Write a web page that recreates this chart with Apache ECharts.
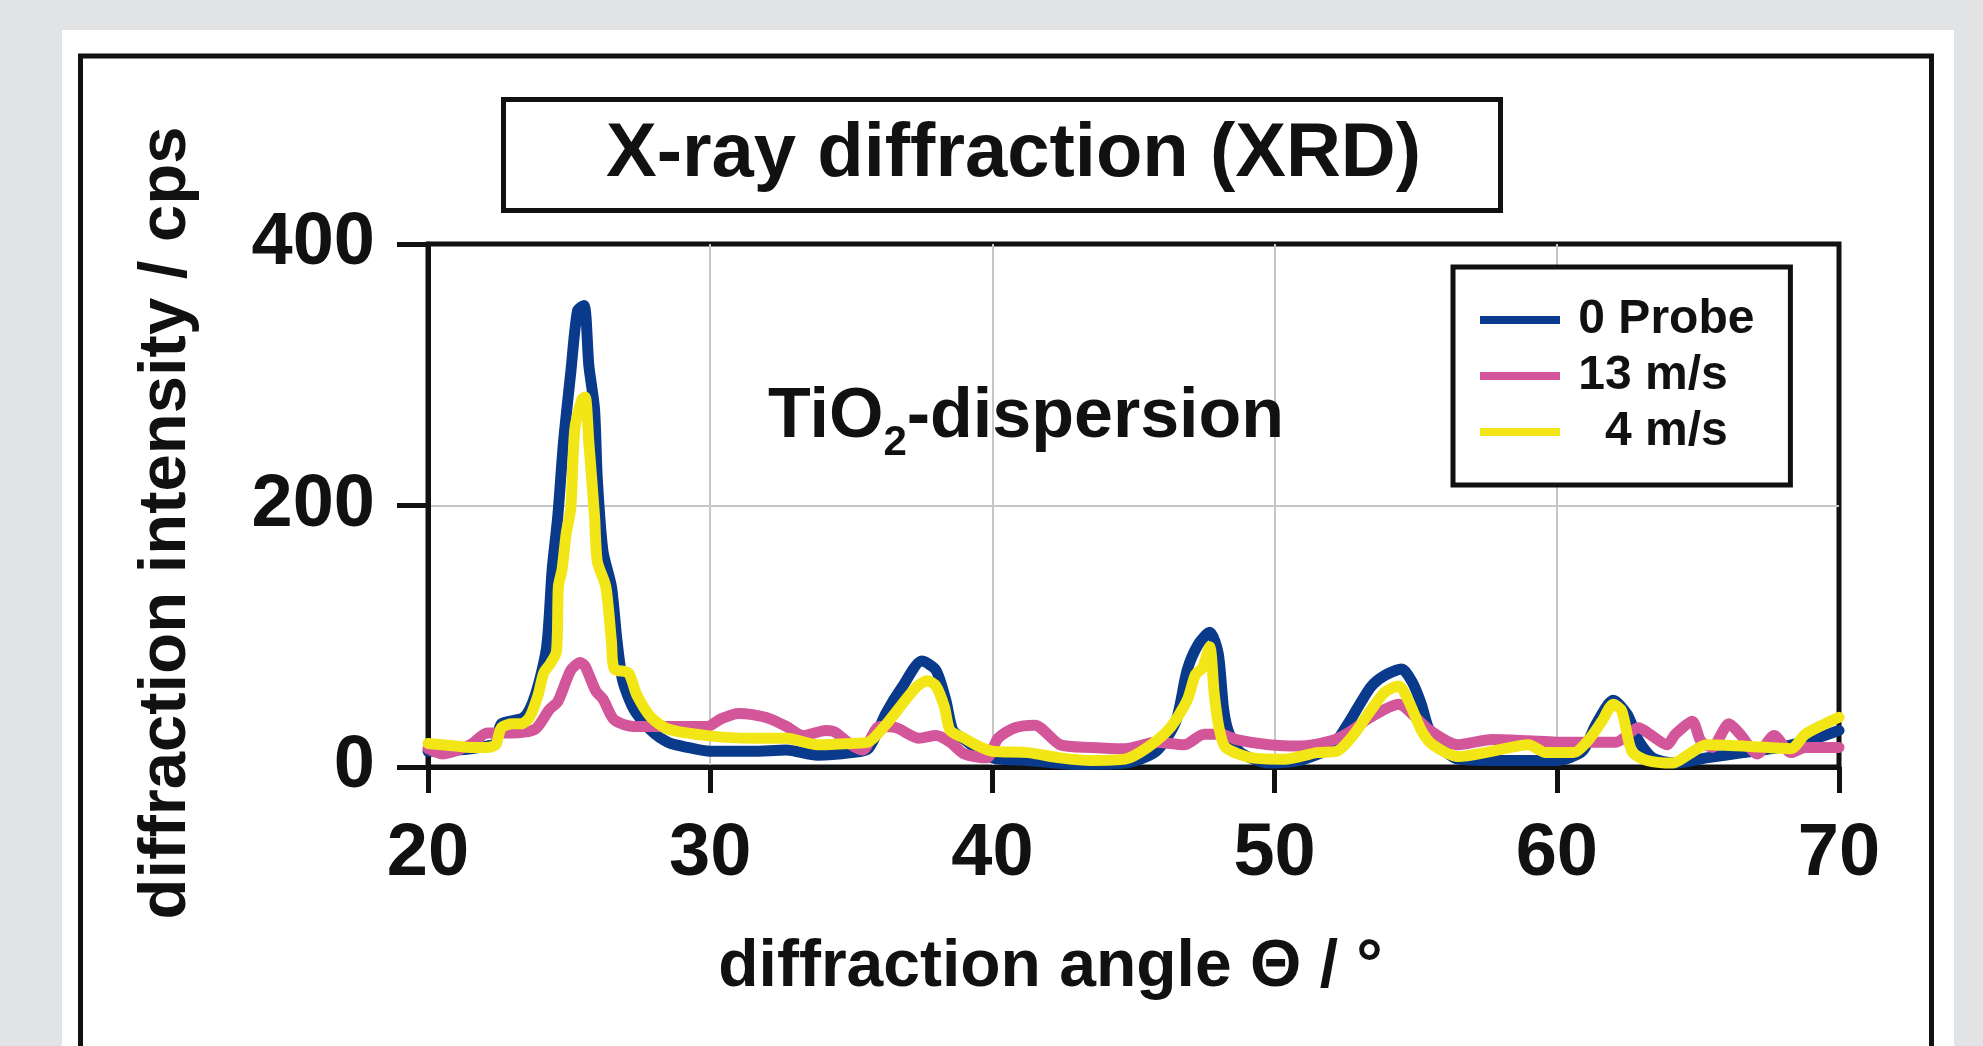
<!DOCTYPE html>
<html>
<head>
<meta charset="utf-8">
<script src="https://cdn.jsdelivr.net/npm/echarts@6/dist/echarts.min.js"></script>
<style>
html,body{margin:0;padding:0;background:#e2e3e5;}
#chart{width:1983px;height:1046px;}
</style>
</head>
<body>
<div id="chart"></div>
<script>
// ---- data (angle 2θ in °, intensity in cps) ----
const seriesNames = ['0 Probe', '13 m/s', '4 m/s'];
const xMin = 20, xMax = 70, xStep = 10;
const yMin = 0, yMax = 400, yStep = 200;

const probe0 = [[20,12],[20.5,12],[21,13],[21.5,14],[22.1,16],[22.4,18],[22.6,33],[23.4,38],[23.8,55],[24.2,91],[24.4,151],[24.6,192],[24.8,248],[25.06,302],[25.3,349],[25.53,353],[25.7,307],[25.9,274],[26.0,220],[26.2,165],[26.5,138],[26.7,96],[26.9,66],[27.3,44],[27.9,28],[28.5,19],[29.2,15],[30,12],[31.5,12],[32.7,13],[33.8,9],[35,11],[35.6,14],[36.25,42],[36.8,61],[37.5,81],[38.0,74],[38.35,51],[38.6,28],[39.0,21],[40,7],[41.25,5],[43.0,2],[44.7,3],[45.8,12],[46.5,35],[46.9,74],[47.3,94],[47.7,103],[48.0,87],[48.2,43],[48.4,25],[48.8,11],[49.8,3],[50.9,5],[52.0,15],[52.6,33],[53.4,61],[53.9,70],[54.5,75],[54.9,64],[55.2,48],[55.45,30],[55.9,15],[56.5,6],[57.7,5],[59.0,5],[60,5],[60.9,12],[61.4,33],[62.0,51],[62.5,40],[62.9,20],[63.4,7],[64.2,3],[65.3,7],[66.6,11],[67.9,15],[69.2,22],[70,28]];

const speed13 = [[20,14],[20.5,10],[21.5,17],[22.1,26],[23.0,26],[23.8,29],[24.3,44],[24.6,50],[25.06,74],[25.4,80],[25.57,77],[25.95,58],[26.2,52],[26.6,36],[27.3,31],[29.9,31],[30.4,37],[31.0,41],[31.5,40],[32.1,37],[32.7,31],[33.3,24],[34.1,28],[34.4,27],[35.0,17],[35.4,13],[36.0,31],[36.6,30],[37.4,22],[38.0,24],[38.5,19],[39.0,10],[39.8,7],[40.2,22],[40.8,30],[41.5,32],[42.4,17],[43.5,15],[44.7,14],[45.8,19],[46.8,17],[47.5,25],[48.1,25],[48.65,21],[49.8,17],[50.9,16],[52.0,20],[52.6,26],[53.4,38],[54.4,48],[54.9,40],[55.5,28],[56.5,17],[57.7,21],[59.0,20],[60,19],[62.1,19],[62.9,30],[63.3,25],[63.9,17],[64.2,25],[64.8,35],[65.1,20],[65.5,15],[66.1,33],[66.5,25],[67.1,10],[67.7,24],[68.3,11],[68.8,15],[70,15]];

const speed4 = [[20,18],[20.5,17],[21,16],[21.5,15],[22.1,15],[22.4,17],[22.6,30],[23,33],[23.3,33],[23.6,38],[23.9,55],[24.1,72],[24.3,78],[24.55,88],[24.62,138],[24.75,151],[24.9,179],[25.06,198],[25.2,258],[25.45,281],[25.57,283],[25.7,248],[25.9,192],[26.0,157],[26.3,138],[26.5,96],[26.6,75],[27.1,72],[27.4,55],[27.9,38],[28.5,29],[29.9,24],[31.5,22],[32.7,22],[33.8,17],[35.0,18],[35.6,19],[36.25,33],[36.8,48],[37.3,61],[37.7,66],[38.0,62],[38.3,46],[38.5,28],[39.0,22],[39.5,16],[40,12],[41.25,11],[42.4,7],[43.5,5],[44.7,6],[45.5,15],[46.3,30],[46.9,51],[47.2,71],[47.45,76],[47.7,92],[47.86,56],[48.03,30],[48.26,15],[49.2,7],[50.35,6],[51.5,11],[52.2,12],[52.7,22],[53.4,43],[53.9,57],[54.4,62],[54.8,48],[55.2,28],[55.6,17],[56.5,8],[57.7,12],[59.0,17],[59.6,11],[60.6,11],[61.1,20],[61.6,35],[62.0,48],[62.3,43],[62.66,12],[63.2,5],[64.1,3],[64.7,10],[65.3,17],[66.6,16],[68.3,14],[68.8,25],[69.5,33],[70,38]];

const titleText = 'X-ray diffraction (XRD)';
const xAxisName = 'diffraction angle Θ / °';
const yAxisName = 'diffraction intensity / cps';

// ---- chart ----
const FONT = '"Liberation Sans", Arial, Helvetica, sans-serif';
const INK = '#111';
const colors = ['#0a3a8b', '#d4569a', '#f2e616'];
const dataSets = [probe0, speed13, speed4];

const chart = echarts.init(document.getElementById('chart'), null, {renderer: 'canvas'});

const option = {
  animation: false,
  backgroundColor: 'transparent',
  textStyle: {fontFamily: FONT},
  title: {
    text: titleText,
    left: 503, top: 99,
    padding: [18, 80, 18, 103],
    borderColor: INK, borderWidth: 5,
    textStyle: {fontSize: 76, fontWeight: 'bold', color: INK, fontFamily: FONT, lineHeight: 76}
  },
  legend: {
    orient: 'vertical',
    left: 1453, top: 267,
    padding: [29, 36, 29, 27],
    borderColor: INK, borderWidth: 5,
    backgroundColor: '#fff',
    itemWidth: 80, itemHeight: 8, itemGap: 8,
    icon: 'rect',
    data: seriesNames,
    formatter: function (n) { return n === '4 m/s' ? '   ' + n : ' ' + n; },
    textStyle: {fontSize: 48, fontWeight: 'bold', color: INK, fontFamily: FONT, lineHeight: 48}
  },
  grid: {
    left: 428, top: 244, right: 144, bottom: 279,
    show: true, borderColor: INK, borderWidth: 5, backgroundColor: '#fff'
  },
  xAxis: {
    type: 'value', min: xMin, max: xMax, interval: xStep,
    name: xAxisName, nameLocation: 'middle', nameGap: 168,
    nameTextStyle: {fontSize: 66, fontWeight: 'bold', color: INK, fontFamily: FONT, padding: [0, 166, 0, 0]},
    axisLine: {show: true, onZero: false, lineStyle: {color: INK, width: 5}},
    axisTick: {show: true, length: 26, lineStyle: {color: INK, width: 5}},
    axisLabel: {fontSize: 74, fontWeight: 'bold', color: INK, fontFamily: FONT, margin: 51, showMinLabel: true, showMaxLabel: true},
    splitLine: {show: true, showMinLine: false, showMaxLine: false, lineStyle: {color: '#c6c6c6', width: 2}}
  },
  yAxis: {
    type: 'value', min: yMin, max: yMax, interval: yStep,
    name: yAxisName, nameLocation: 'middle', nameGap: 228, nameRotate: 90,
    nameTextStyle: {fontSize: 67, fontWeight: 'bold', color: INK, fontFamily: FONT, padding: [0, 35, 0, 0]},
    axisLine: {show: true, lineStyle: {color: INK, width: 5}},
    axisTick: {show: true, length: 31, lineStyle: {color: INK, width: 5}},
    axisLabel: {fontSize: 74, fontWeight: 'bold', color: INK, fontFamily: FONT, margin: 53, showMinLabel: true, showMaxLabel: true},
    splitLine: {show: true, showMinLine: false, showMaxLine: false, lineStyle: {color: '#c6c6c6', width: 2}}
  },
  graphic: [
    {type: 'rect', z: -100, silent: true, shape: {x: 62, y: 30, width: 1892, height: 1100}, style: {fill: '#fff'}},
    {type: 'rect', z: -99, silent: true, shape: {x: 80.5, y: 56, width: 1851, height: 1100}, style: {fill: 'none', stroke: INK, lineWidth: 5}},
    {type: 'text', z: 10, silent: true, x: 768, y: 418,
      style: {
        text: '{m|TiO}{s|2}{m|-dispersion}',
        verticalAlign: 'middle',
        rich: {
          m: {fontSize: 70, fontWeight: 'bold', fill: INK, fontFamily: FONT, lineHeight: 70},
          s: {fontSize: 42, fontWeight: 'bold', fill: INK, fontFamily: FONT, lineHeight: 10, verticalAlign: 'bottom', padding: [0, 0, -11, 0]}
        }
      }
    }
  ],
  series: seriesNames.map(function (name, i) {
    return {
      name: name, type: 'line', data: dataSets[i],
      showSymbol: false, smooth: 0.25,
      lineStyle: {color: colors[i], width: 11, join: 'round', cap: 'round'},
      itemStyle: {color: colors[i]},
      z: 2 + i
    };
  })
};
chart.setOption(option);
</script>
</body>
</html>
